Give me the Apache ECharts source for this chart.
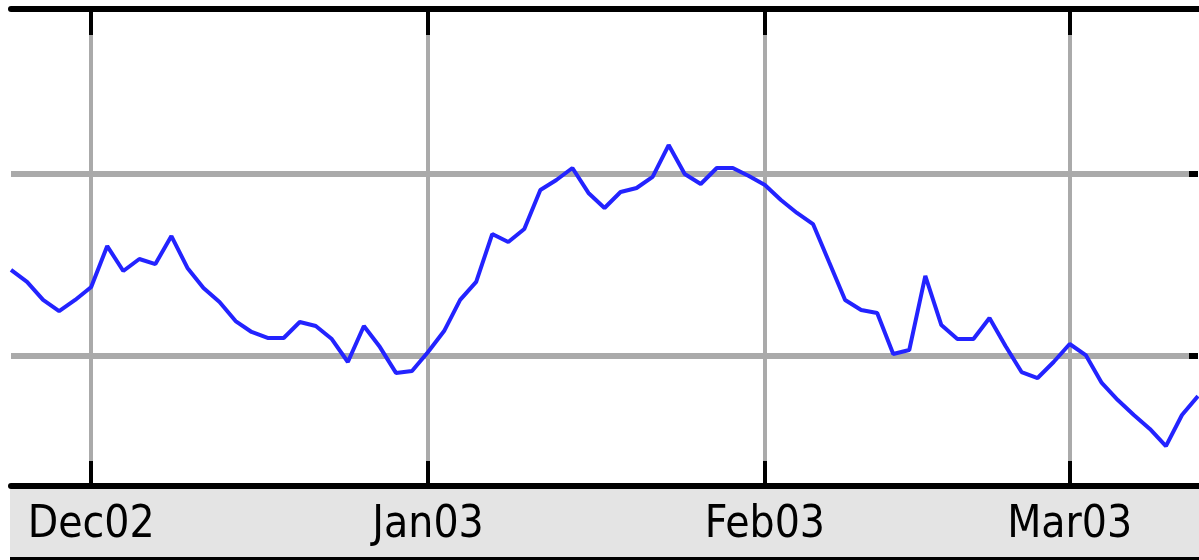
<!DOCTYPE html>
<html>
<head>
<meta charset="utf-8">
<script src="https://cdn.jsdelivr.net/npm/echarts@6.0.0/dist/echarts.min.js"></script>
<style>
  html, body { margin: 0; padding: 0; background: #fff; }
  #chart { width: 1199px; height: 560px; }
</style>
</head>
<body>
<div id="chart"></div>
<script>
// trading days shown on the axis
const dates = [
  '2002-11-22', '2002-11-25', '2002-11-26', '2002-11-27', '2002-11-29',
  '2002-12-02', '2002-12-03', '2002-12-04', '2002-12-05', '2002-12-06',
  '2002-12-09', '2002-12-10', '2002-12-11', '2002-12-12', '2002-12-13',
  '2002-12-16', '2002-12-17', '2002-12-18', '2002-12-19', '2002-12-20',
  '2002-12-23', '2002-12-24', '2002-12-26', '2002-12-27', '2002-12-30',
  '2002-12-31', '2003-01-02', '2003-01-03', '2003-01-06', '2003-01-07',
  '2003-01-08', '2003-01-09', '2003-01-10', '2003-01-13', '2003-01-14',
  '2003-01-15', '2003-01-16', '2003-01-17', '2003-01-21', '2003-01-22',
  '2003-01-23', '2003-01-24', '2003-01-27', '2003-01-28', '2003-01-29',
  '2003-01-30', '2003-01-31', '2003-02-03', '2003-02-04', '2003-02-05',
  '2003-02-06', '2003-02-07', '2003-02-10', '2003-02-11', '2003-02-12',
  '2003-02-13', '2003-02-14', '2003-02-18', '2003-02-19', '2003-02-20',
  '2003-02-21', '2003-02-24', '2003-02-25', '2003-02-26', '2003-02-27',
  '2003-02-28', '2003-03-03', '2003-03-04', '2003-03-05', '2003-03-06',
  '2003-03-07', '2003-03-10', '2003-03-11', '2003-03-12', '2003-03-13'
];

const values = [
  104.73, 104.07, 103.08, 102.47, 103.08,
  103.79, 106.04, 104.67, 105.33, 105.05,
  106.59, 104.84, 103.74, 102.97, 101.92,
  101.32, 100.99, 100.99, 101.87, 101.65,
  100.93, 99.67, 101.65, 100.49, 99.07,
  99.18, 100.22, 101.37, 103.08, 104.07,
  106.70, 106.26, 106.98, 109.12, 109.67,
  110.33, 108.96, 108.13, 109.01, 109.23,
  109.84, 111.59, 110.00, 109.45, 110.33,
  110.33, 109.89, 109.40, 108.57, 107.86,
  107.25, 105.16, 103.08, 102.53, 102.36,
  100.11, 100.33, 104.40, 101.70, 100.93,
  100.93, 102.09, 100.55, 99.12, 98.79,
  99.67, 100.66, 100.05, 98.52, 97.58,
  96.76, 95.99, 95.05, 96.76, 97.80
];

// month ticks and their labels
const tickDates = ['2002-12-02', '2003-01-02', '2003-02-03', '2003-03-03'];
const tickLabels = ['Dec02', 'Jan03', 'Feb03', 'Mar03'];

// horizontal grid levels (no labels on the picture)
const gridLevels = [100, 110];
const yMin = 92.857;
const yMax = 119.066;

const isTick = (idx, val) => tickDates.indexOf(val) >= 0;

const chart = echarts.init(document.getElementById('chart'));
chart.setOption({
  animation: false,
  backgroundColor: '#ffffff',
  grid: { left: 11, right: 1, top: 9, bottom: 74 },
  graphic: [
    { type: 'rect', z: -10, shape: { x: 10, y: 489, width: 1189, height: 68 }, style: { fill: '#e4e4e4' } },
    { type: 'rect', z: -10, shape: { x: 10, y: 557, width: 1189, height: 3 }, style: { fill: '#000' } }
  ],
  xAxis: [
    {
      type: 'category',
      data: dates,
      position: 'bottom',
      boundaryGap: false,
      axisLine: { lineStyle: { color: '#000', width: 6 } },
      axisTick: { inside: true, length: 25, interval: isTick, lineStyle: { color: '#000', width: 4 } },
      axisLabel: {
        interval: isTick,
        margin: 18,
        color: '#000',
        fontFamily: '"DejaVu Sans Condensed", "DejaVu Sans", sans-serif',
        fontSize: 44,
        formatter: v => tickLabels[tickDates.indexOf(v)]
      },
      splitLine: { show: true, interval: isTick, lineStyle: { color: '#aaaaaa', width: 4 } }
    },
    {
      type: 'category',
      data: dates,
      position: 'top',
      boundaryGap: false,
      axisLine: { lineStyle: { color: '#000', width: 6 } },
      axisTick: { inside: true, length: 26, interval: isTick, lineStyle: { color: '#000', width: 4 } },
      axisLabel: { show: false },
      splitLine: { show: false }
    }
  ],
  yAxis: {
    type: 'value',
    position: 'right',
    min: yMin,
    max: yMax,
    axisLine: { show: false },
    axisTick: { show: true, inside: true, length: 9, customValues: gridLevels, lineStyle: { color: '#000', width: 6 } },
    axisLabel: { show: false, customValues: gridLevels },
    splitLine: { show: true, lineStyle: { color: '#aaaaaa', width: 6 } }
  },
  series: [{
    type: 'line',
    data: values,
    symbol: 'none',
    lineStyle: { color: '#2323ff', width: 4 }
  }]
});
</script>
</body>
</html>
